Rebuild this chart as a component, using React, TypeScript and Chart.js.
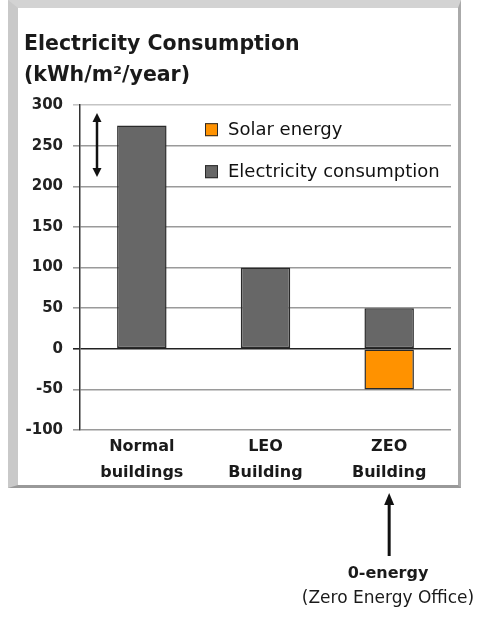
import React, { useEffect, useRef } from "react";
import { Chart, registerables } from "chart.js";

Chart.register(...registerables);

// ---- data ----
const categories: string[][] = [
  ["Normal", "buildings"],
  ["LEO", "Building"],
  ["ZEO", "Building"],
];
const seriesNames = ["Solar energy", "Electricity consumption"];
const solarEnergy: (number | null)[] = [null, null, -50];
const electricityConsumption: number[] = [275, 100, 50];
const yTickMin = -100;
const yTickMax = 300;
const yTickStep = 50;
const titleLines = ["Electricity Consumption", "(kWh/m²/year)"];
const gapArrowRange = [288, 214]; // double arrow on the left (values)
const noteLines = ["0-energy", "(Zero Energy Office)"];
const noteCategoryIndex = 2;

const FONT = "'DejaVu Sans', 'Liberation Sans', sans-serif";
const GREY = "#676767";
const ORANGE = "#ff9200";
const EDGE = "#2a2a2a";

const annotationPlugin = {
  id: "annotations",
  afterDraw(chart: any) {
    const { ctx, chartArea, scales } = chart;
    const ys = scales.y;
    const xs = scales.x;
    ctx.save();

    // double-headed arrow
    const ax = chartArea.left + 17;
    const y1 = ys.getPixelForValue(gapArrowRange[0]);
    const y2 = ys.getPixelForValue(gapArrowRange[1]);
    ctx.strokeStyle = "#111";
    ctx.fillStyle = "#111";
    ctx.lineWidth = 2.5;
    ctx.beginPath();
    ctx.moveTo(ax, y1 + 5);
    ctx.lineTo(ax, y2 - 5);
    ctx.stroke();
    ctx.beginPath();
    ctx.moveTo(ax, y1 - 2);
    ctx.lineTo(ax - 4.5, y1 + 7);
    ctx.lineTo(ax + 4.5, y1 + 7);
    ctx.closePath();
    ctx.fill();
    ctx.beginPath();
    ctx.moveTo(ax, y2 + 2);
    ctx.lineTo(ax - 4.5, y2 - 7);
    ctx.lineTo(ax + 4.5, y2 - 7);
    ctx.closePath();
    ctx.fill();

    // legend inside the plot
    const lx = chartArea.left + 125;
    const tops = [chartArea.top + 18, chartArea.top + 60];
    chart.data.datasets.forEach((ds: any, i: number) => {
      const t = tops[i];
      ctx.fillStyle = ds.backgroundColor;
      ctx.fillRect(lx, t, 13, 13);
      ctx.strokeStyle = EDGE;
      ctx.lineWidth = 1;
      ctx.strokeRect(lx + 0.5, t + 0.5, 12, 12);
      ctx.fillStyle = "#111";
      ctx.font = `18px ${FONT}`;
      ctx.textAlign = "left";
      ctx.textBaseline = "middle";
      ctx.fillText(ds.label, lx + 23, t + 7);
    });

    // arrow below the frame pointing at ZEO
    const bx = xs.getPixelForValue(noteCategoryIndex);
    ctx.strokeStyle = "#111";
    ctx.fillStyle = "#111";
    ctx.lineWidth = 3;
    ctx.beginPath();
    ctx.moveTo(bx, 556);
    ctx.lineTo(bx, 503);
    ctx.stroke();
    ctx.beginPath();
    ctx.moveTo(bx, 493);
    ctx.lineTo(bx - 5, 505);
    ctx.lineTo(bx + 5, 505);
    ctx.closePath();
    ctx.fill();

    ctx.restore();
  },
};

export default function App() {
  const ref = useRef<HTMLCanvasElement | null>(null);

  useEffect(() => {
    if (!ref.current) return;
    const chart = new Chart(ref.current, {
      type: "bar",
      data: {
        labels: categories,
        datasets: [
          {
            label: seriesNames[0],
            data: solarEnergy,
            backgroundColor: ORANGE,
            borderColor: EDGE,
            borderWidth: 1.5,
            borderSkipped: false,
          },
          {
            label: seriesNames[1],
            data: electricityConsumption,
            backgroundColor: GREY,
            borderColor: EDGE,
            borderWidth: 1.5,
            borderSkipped: false,
          },
        ] as any,
      },
      options: {
        responsive: false,
        animation: false,
        layout: { padding: { left: 24, right: 35, top: 0, bottom: 130 } },
        datasets: { bar: { categoryPercentage: 1, barPercentage: 0.4 } },
        plugins: {
          legend: { display: false },
          tooltip: { enabled: false },
          title: {
            display: true,
            text: titleLines,
            align: "start",
            color: "#1a1a1a",
            font: { family: FONT, size: 20.5, weight: "bold", lineHeight: 1.48 },
            padding: { top: 30, bottom: 14.5 },
          },
        },
        scales: {
          x: {
            stacked: true,
            grid: { display: false },
            border: { display: false },
            ticks: {
              color: "#1a1a1a",
              padding: -4,
              font: { family: FONT, size: 16, weight: "bold", lineHeight: 1.6 },
              maxRotation: 0,
            },
            afterFit(scale: any) {
              scale.height = 60;
            },
          },
          y: {
            stacked: true,
            min: yTickMin,
            max: yTickMax,
            ticks: {
              stepSize: yTickStep,
              color: "#222",
              padding: 10,
              font: { family: FONT, size: 15, weight: "bold" },
            },
            grid: {
              color: (c: any) =>
                c.tick && c.tick.value === 0
                  ? "#222"
                  : c.tick && c.tick.value === yTickMax
                  ? "#c4c4c4"
                  : "#9a9a9a",
              lineWidth: 1.6,
              tickLength: 7,
            },
            border: { display: true, color: "#333", width: 1.5 },
            afterFit(scale: any) {
              scale.width = 56;
            },
          },
        },
      },
      plugins: [annotationPlugin],
    } as any);
    return () => chart.destroy();
  }, []);

  return (
    <div
      style={{
        position: "absolute",
        left: 0,
        top: 0,
        width: 486,
        height: 620,
        background: "#fff",
        overflow: "hidden",
      }}
    >
      <div
        style={{
          position: "absolute",
          left: 8,
          top: 0,
          width: 453,
          height: 488,
          boxSizing: "border-box",
          background: "#fff",
          borderTop: "8px solid #d3d3d3",
          borderLeft: "10px solid #c9c9c9",
          borderRight: "3px solid #aaa",
          borderBottom: "3px solid #999",
        }}
      />
      <canvas
        ref={ref}
        width={486}
        height={620}
        style={{ position: "absolute", left: 0, top: 0, width: 486, height: 620 }}
      />
      <div
        style={{
          position: "absolute",
          left: 288,
          width: 200,
          top: 561,
          textAlign: "center",
          fontFamily: FONT,
          color: "#1a1a1a",
          lineHeight: "24px",
        }}
      >
        <div style={{ fontWeight: "bold", fontSize: 16 }}>{noteLines[0]}</div>
        <div style={{ fontSize: 17, whiteSpace: "nowrap" }}>{noteLines[1]}</div>
      </div>
    </div>
  );
}
